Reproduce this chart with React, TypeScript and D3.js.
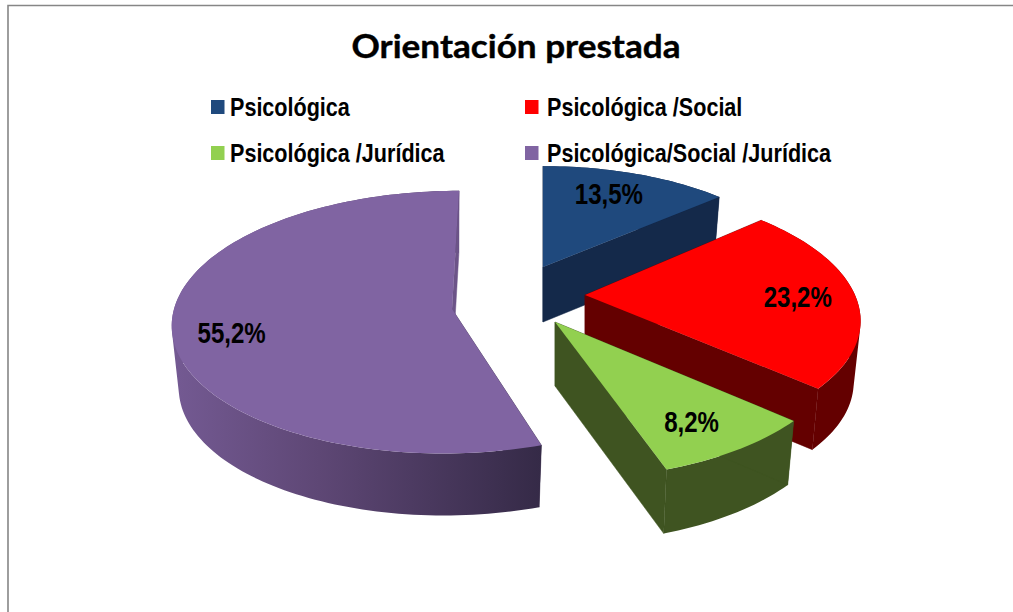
import React, { useEffect, useRef } from "react";
import * as d3 from "d3";

const categories = ["Psicológica", "Psicológica /Social", "Psicológica /Jurídica", "Psicológica/Social /Jurídica"];
const shares = [13.5, 23.2, 8.2, 55.2];
const shareLabels = ["13,5%", "23,2%", "8,2%", "55,2%"];

const topColors = ["#1f497d", "#ff0000", "#92d050", "#8064a2"];
const wallColors = ["#14294a", "#640000", "#3f5421", "url(#purpleWall)"];
const backWallColors = ["#14294a", "#640000", "#3f5421", "#6c5488"];

// exploded slices, each one has its own perspective fit
const sliceShapes = [
  { cx: 543, cy: 267, rx: 260, ry: 117, k: 0.16, shear: 0, depth: 55, labelR: 0.7, labelDx: -2, labelDy: -6 },
  { cx: 585, cy: 295, rx: 270, ry: 125, k: 0.16, shear: 0.09, depth: 61, labelR: 0.78, labelDx: 2, labelDy: 1 },
  { cx: 555, cy: 322, rx: 282, ry: 132, k: 0.16, shear: 0.04, depth: 64, labelR: 0.8, labelDx: -6, labelDy: 1 },
  { cx: 452, cy: 309, rx: 278, ry: 130, k: 0.1, shear: -0.06, depth: 62, labelR: 0.8, labelDx: 3, labelDy: 7 },
];

const WIDTH = 1013;
const HEIGHT = 612;
const FLOOR_SHRINK = 0.975;
const NARROW_FONT = "'Liberation Sans', Arial, sans-serif";
const NARROW_SCALE = 0.83; // no narrow face installed, squeeze the regular bold

type Shape = (typeof sliceShapes)[number];
type Pt = [number, number];

const project = (s: Shape, angle: number, r: number, floor = false): Pt => {
  const u = r * Math.sin(angle);
  const v = -r * Math.cos(angle);
  const w = 1 / (1 - s.k * v);
  const sy = s.ry * v * w;
  const sx = s.rx * u * w + s.shear * sy;
  return floor ? [s.cx + sx * FLOOR_SHRINK, s.cy + sy + s.depth] : [s.cx + sx, s.cy + sy];
};

const App = () => {
  const svgRef = useRef<SVGSVGElement>(null);

  useEffect(() => {
    const svg = d3.select(svgRef.current);
    svg.selectAll("*").remove();

    const defs = svg.append("defs");
    const grad = defs
      .append("linearGradient")
      .attr("id", "purpleWall")
      .attr("gradientUnits", "userSpaceOnUse")
      .attr("x1", 171)
      .attr("x2", 541)
      .attr("y1", 0)
      .attr("y2", 0);
    grad.append("stop").attr("offset", 0).attr("stop-color", "#745a93");
    grad.append("stop").attr("offset", 0.4).attr("stop-color", "#5e4775");
    grad.append("stop").attr("offset", 1).attr("stop-color", "#352a47");

    // frame of the chart area
    svg
      .append("path")
      .attr("d", `M8,${HEIGHT} V5.5 H${WIDTH}`)
      .attr("fill", "none")
      .attr("stroke", "#868686")
      .attr("stroke-width", 1.6);

    svg
      .append("text")
      .attr("x", 516)
      .attr("y", 58)
      .attr("text-anchor", "middle")
      .attr("font-family", "Lato, 'Noto Sans', sans-serif")
      .attr("font-weight", 700)
      .attr("font-size", 33)
      .attr("stroke", "#000")
      .attr("stroke-width", 0.4)
      .attr("textLength", 329)
      .attr("lengthAdjust", "spacingAndGlyphs")
      .text("Orientación prestada");

    // legend, two columns
    const legendX = [211, 525];
    const legendTextX = [19, 22];
    const legendY = [100, 146];
    const legend = svg
      .selectAll("g.legend")
      .data(categories)
      .enter()
      .append("g")
      .attr("class", "legend")
      .attr("transform", (_, i) => `translate(${legendX[i % 2]},${legendY[Math.floor(i / 2)]})`);
    legend.append("rect").attr("width", 13.5).attr("height", 14).attr("fill", (_, i) => topColors[i]);
    legend
      .append("text")
      .attr("transform", (_, i) => `translate(${legendTextX[i % 2]},16) scale(${NARROW_SCALE},1)`)
      .attr("font-family", NARROW_FONT)
      .attr("font-weight", 700)
      .attr("font-size", 26)
      .text((d) => d);

    const pie = d3.pie<number>().sort(null).value((d) => d);
    const arcs = pie(shares);
    const line = d3.line();

    // painter's order: purple first, then front slices over the back ones
    const order = [3, 0, 1, 2];
    order.forEach((i) => {
      const a = arcs[i];
      const s = sliceShapes[i];
      const n = Math.ceil((a.endAngle - a.startAngle) * 40);
      const angles = d3.range(n + 1).map((j) => a.startAngle + ((a.endAngle - a.startAngle) * j) / n);
      const rim = angles.map((t) => project(s, t, 1));
      const rimFloor = angles.map((t) => project(s, t, 1, true));
      const g = svg.append("g");

      // rim wall: one quad per step, all wound the same way and kept in one path,
      // so the fill unions them without seams and without holes past the tangent points
      const quads = d3.range(n).map((j) => {
        const q: Pt[] = [rim[j], rim[j + 1], rimFloor[j + 1], rimFloor[j]];
        return d3.polygonArea(q) < 0 ? q.reverse() : q;
      });
      g.append("path")
        .attr("d", quads.map((q) => line(q) + "Z").join(""))
        .attr("fill", wallColors[i]);

      const wall = (pts: Pt[], color: string) =>
        g
          .append("path")
          .attr("d", line(pts) + "Z")
          .attr("fill", color)
          .attr("stroke", color)
          .attr("stroke-width", 0.5);
      wall([project(s, a.startAngle, 0), rim[0], rimFloor[0], project(s, a.startAngle, 0, true)], wallColors[i]);
      wall([project(s, a.endAngle, 0), rim[n], rimFloor[n], project(s, a.endAngle, 0, true)], backWallColors[i]);

      g.append("path")
        .attr("d", line([project(s, a.startAngle, 0), ...rim]) + "Z")
        .attr("fill", topColors[i]);
    });

    svg
      .selectAll("text.share")
      .data(arcs)
      .enter()
      .append("text")
      .attr("class", "share")
      .attr("transform", (d, i) => {
        const s = sliceShapes[i];
        const [x, y] = project(s, (d.startAngle + d.endAngle) / 2, s.labelR);
        return `translate(${x + s.labelDx},${y + s.labelDy}) scale(${NARROW_SCALE},1)`;
      })
      .attr("dy", "0.36em")
      .attr("text-anchor", "middle")
      .attr("font-family", NARROW_FONT)
      .attr("font-weight", 700)
      .attr("font-size", 29)
      .text((_, i) => shareLabels[i]);
  }, []);

  return (
    <svg
      ref={svgRef}
      width={WIDTH}
      height={HEIGHT}
      style={{ position: "absolute", left: 0, top: 0, background: "#fff" }}
    />
  );
};

export default App;
